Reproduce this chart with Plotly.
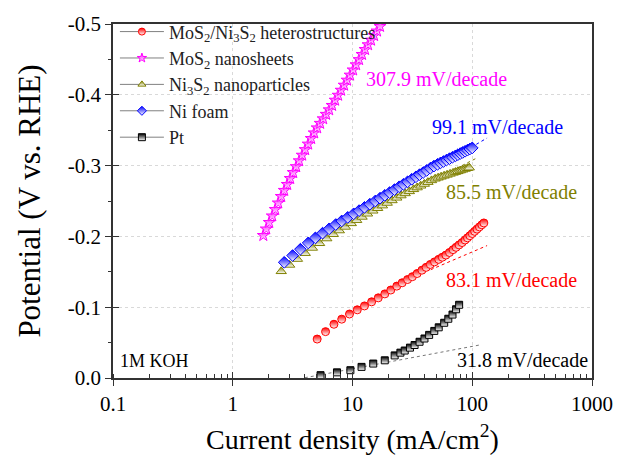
import plotly.graph_objects as go

# ---------------- data ----------------
# MoS2 nanosheets (magenta stars)
mos2_x = [1.80, 1.905, 2.018, 2.138, 2.265, 2.399, 2.541, 2.692, 2.851, 3.020,
          3.199, 3.388, 3.589, 3.802, 4.027, 4.266, 4.519, 4.786, 5.070, 5.370,
          5.689, 6.026, 6.383, 6.761, 7.161, 7.586, 8.035, 8.511, 9.016, 9.550,
          10.12, 10.72, 11.35, 12.02, 12.74, 13.49, 14.29, 15.14, 16.03, 16.98]
mos2_y = [-0.2013, -0.2105, -0.2197, -0.2289, -0.2380, -0.2472, -0.2564, -0.2650, -0.2734, -0.2818,
          -0.2902, -0.2985, -0.3068, -0.3147, -0.3226, -0.3304, -0.3383, -0.3462, -0.3533, -0.3597,
          -0.3661, -0.3724, -0.3788, -0.3850, -0.3924, -0.3994, -0.4065, -0.4136, -0.4207, -0.4278,
          -0.4351, -0.4424, -0.4497, -0.4570, -0.4640, -0.4707, -0.4772, -0.4837, -0.4901, -0.4966]

# Ni foam (blue diamonds)
ni_x = [2.692, 3.162, 3.673, 4.266, 4.898, 5.623, 6.383, 7.244, 8.128, 9.120,
        10.23, 11.35, 12.59, 13.96, 15.49, 16.98, 18.62, 20.42, 22.39, 24.55,
        26.61, 28.84, 31.26, 33.88, 36.31, 38.90, 41.69, 44.67, 47.86, 51.29,
        54.33, 57.54, 60.95, 64.57, 68.39, 72.44, 75.86, 79.43, 83.18, 87.10,
        91.20, 95.50, 100.0]
ni_y = [-0.1634, -0.1730, -0.1819, -0.1908, -0.1979, -0.2046, -0.2107, -0.2168, -0.2218, -0.2269,
        -0.2319, -0.2364, -0.2410, -0.2455, -0.2500, -0.2540, -0.2580, -0.2620, -0.2660, -0.2701,
        -0.2736, -0.2771, -0.2807, -0.2842, -0.2872, -0.2902, -0.2932, -0.2963, -0.2993, -0.3018,
        -0.3038, -0.3058, -0.3078, -0.3098, -0.3118, -0.3138, -0.3154, -0.3170, -0.3186, -0.3202,
        -0.3218, -0.3234, -0.3250]

# Ni3S2 nanoparticles (olive triangles)
ni3s2_x = [2.541, 2.985, 3.467, 4.027, 4.624, 5.309, 6.095, 6.918, 7.762, 8.710,
           9.772, 10.84, 12.02, 13.34, 14.79, 16.22, 17.78, 19.50, 21.38, 23.44,
           25.41, 27.54, 29.85, 32.36, 34.67, 37.15, 39.81, 42.66, 45.71, 48.98,
           51.88, 54.95, 58.21, 61.66, 65.31, 69.18, 72.44, 75.86, 79.43, 83.18,
           87.10, 91.20, 94.41]
ni3s2_y = [-0.1507, -0.1597, -0.1680, -0.1763, -0.1837, -0.1903, -0.1970, -0.2031, -0.2083, -0.2134,
           -0.2184, -0.2229, -0.2275, -0.2320, -0.2362, -0.2398, -0.2435, -0.2472, -0.2508, -0.2545,
           -0.2577, -0.2607, -0.2636, -0.2665, -0.2690, -0.2715, -0.2740, -0.2766, -0.2791, -0.2814,
           -0.2828, -0.2842, -0.2856, -0.2869, -0.2883, -0.2897, -0.2908, -0.2919, -0.2930, -0.2941,
           -0.2952, -0.2963, -0.2971]

# MoS2/Ni3S2 heterostructures (red circles)
het_x = [5.070, 5.957, 6.998, 8.128, 9.441, 10.96, 12.59, 14.45, 16.41, 18.62,
         20.89, 23.44, 26.00, 28.84, 31.62, 34.67, 38.02, 41.21, 44.67, 48.42,
         52.48, 56.23, 60.26, 64.57, 69.18, 73.28, 77.62, 82.22, 87.10, 91.20,
         95.50, 100.0, 104.7, 109.6, 114.8, 120.2, 125.0]
het_y = [-0.0550, -0.0655, -0.0759, -0.0831, -0.0904, -0.0963, -0.1018, -0.1076, -0.1132, -0.1188,
         -0.1243, -0.1298, -0.1345, -0.1391, -0.1431, -0.1476, -0.1523, -0.1563, -0.1604, -0.1640,
         -0.1676, -0.1706, -0.1736, -0.1773, -0.1813, -0.1846, -0.1880, -0.1913, -0.1949, -0.1980,
         -0.2010, -0.2041, -0.2072, -0.2103, -0.2134, -0.2164, -0.2190]

# Pt (black squares)
pt_x = [5.41, 7.42, 9.60, 11.9, 14.9, 18.6, 22.5, 25.12, 27.3, 30.20,
        33.0, 36.31, 39.9, 43.65, 48.2, 52.48, 58.3, 63.10, 68.4, 73.28, 77.7]
pt_y = [-0.0040, -0.0080, -0.0110, -0.0157, -0.0204, -0.0250, -0.0319, -0.0358, -0.0388, -0.0429,
        -0.0466, -0.0512, -0.0558, -0.0609, -0.0665, -0.0716, -0.0780, -0.0837, -0.0896, -0.0971, -0.1034]

# Tafel fit lines (end points)
fit_pt_x, fit_pt_y = [4.0, 115.0], [-0.0004, -0.0466]
fit_het_x, fit_het_y = [45.0, 133.0], [-0.153, -0.187]
fit_ni_x, fit_ni_y = [40.0, 133.0], [-0.287, -0.339]
fit_ni3s2_x, fit_ni3s2_y = [40.0, 110.0], [-0.273, -0.311]

legend_names = ["MoS<sub>2</sub>/Ni<sub>3</sub>S<sub>2</sub> heterostructures",
                "MoS<sub>2</sub> nanosheets",
                "Ni<sub>3</sub>S<sub>2</sub> nanoparticles",
                "Ni foam",
                "Pt"]
slope_labels = ["83.1 mV/decade", "307.9 mV/decade", "85.5 mV/decade", "99.1 mV/decade", "31.8 mV/decade"]

x_tickvals = [0.1, 1, 10, 100, 1000]
x_ticktext = ["0.1", "1", "10", "100", "1000"]
y_tickvals = [0.0, -0.1, -0.2, -0.3, -0.4, -0.5]
y_ticktext = ["0.0", "-0.1", "-0.2", "-0.3", "-0.4", "-0.5"]

# ---------------- figure ----------------
RED, MAG, OLV, BLU, BLK = "#ff0000", "#ff00ff", "#808000", "#0000ff", "#000000"
FONT = "Liberation Serif"

fig = go.Figure()

fits = [(fit_pt_x, fit_pt_y, "#777777"), (fit_het_x, fit_het_y, RED),
        (fit_ni_x, fit_ni_y, BLU), (fit_ni3s2_x, fit_ni3s2_y, OLV)]
for fx, fy, c in fits:
    fig.add_trace(go.Scatter(x=fx, y=fy, mode="lines", showlegend=False, hoverinfo="skip",
                             line=dict(color=c, width=1, dash="dot")))

series = [
    (pt_x, pt_y, BLK, "square", 7),
    (ni3s2_x, ni3s2_y, OLV, "triangle-up", 9),
    (ni_x, ni_y, BLU, "diamond", 9),
    (mos2_x, mos2_y, MAG, "star", 9),
    (het_x, het_y, RED, "circle", 8),
]
for sx, sy, c, sym, sz in series:
    fig.add_trace(go.Scatter(
        x=sx, y=sy, mode="markers", showlegend=False,
        marker=dict(symbol=sym, size=sz, color=c, line=dict(color=c, width=1),
                    gradient=dict(type="vertical", color="white"))))

leg = [(RED, "circle"), (MAG, "star"), (OLV, "triangle-up"), (BLU, "diamond"), (BLK, "square")]
for name, (c, sym) in zip(legend_names, leg):
    fig.add_trace(go.Scatter(
        x=[None], y=[None], mode="lines+markers", name=name,
        line=dict(color="#808080", width=1),
        marker=dict(symbol=sym, size=7, color=c, line=dict(color=c, width=1),
                    gradient=dict(type="vertical", color="white"))))

# dummy trace for overlay axes (crossing ticks)
fig.add_trace(go.Scatter(x=[None], y=[None], xaxis="x2", yaxis="y2", showlegend=False))

ann_pos = [(0.690, 0.277, RED), (0.523, 0.845, MAG), (0.690, 0.526, OLV),
           (0.661, 0.709, BLU), (0.713, 0.050, BLK)]
for txt, (ax, ay, c) in zip(slope_labels, ann_pos):
    fig.add_annotation(x=ax, y=ay, xref="paper", yref="paper", text=txt, showarrow=False,
                       xanchor="left", yanchor="middle", font=dict(family=FONT, size=20, color=c))
fig.add_annotation(x=0.010, y=0.047, xref="paper", yref="paper", text="1M KOH", showarrow=False,
                   xanchor="left", yanchor="middle", font=dict(family=FONT, size=18, color="black"))

axis_line = "#333333"
fig.update_layout(
    width=625, height=462,
    margin=dict(l=113, r=28, t=22, b=79),
    paper_bgcolor="white", plot_bgcolor="white",
    font=dict(family=FONT, color="black"),
    showlegend=True,
    legend=dict(x=0.004, y=1.03, xanchor="left", yanchor="top", bgcolor="rgba(0,0,0,0)",
                font=dict(family=FONT, size=18, color="#222222"), itemwidth=44,
                tracegroupgap=0, borderwidth=0),
    xaxis=dict(type="log", range=[-1, 3], tickvals=x_tickvals, ticktext=x_ticktext,
               ticks="outside", ticklen=6, tickwidth=1, tickcolor=axis_line,
               showline=True, linecolor=axis_line, linewidth=1.5, mirror=True,
               showgrid=True, gridcolor="#d9d9d9", griddash="dot", gridwidth=1,
               zeroline=False, tickfont=dict(family=FONT, size=21, color="black"),
               minor=dict(ticks="inside", ticklen=4, tickcolor=axis_line, dtick="D1", showgrid=False),
               title=dict(text="Current density (mA/cm<sup>2</sup>)", standoff=14,
                          font=dict(family=FONT, size=28, color="black"))),
    yaxis=dict(range=[0, -0.5], tickvals=y_tickvals, ticktext=y_ticktext,
               ticks="outside", ticklen=6, tickwidth=1, tickcolor=axis_line,
               showline=True, linecolor=axis_line, linewidth=1.5, mirror=True,
               showgrid=True, gridcolor="#d9d9d9", griddash="dot", gridwidth=1,
               zeroline=False, tickfont=dict(family=FONT, size=21, color="black"),
               minor=dict(ticks="outside", ticklen=3, tickcolor=axis_line, dtick=0.05, showgrid=False),
               title=dict(text="Potential (V vs. RHE)", standoff=18,
                          font=dict(family=FONT, size=31, color="black"))),
    xaxis2=dict(type="log", range=[-1, 3], overlaying="x", anchor="y2", side="bottom",
                tickvals=x_tickvals, ticks="inside", ticklen=6, tickcolor=axis_line,
                showticklabels=False, showgrid=False, showline=False, zeroline=False),
    yaxis2=dict(range=[0, -0.5], overlaying="y", anchor="x2", side="left",
                tickvals=y_tickvals, ticks="inside", ticklen=6, tickcolor=axis_line,
                showticklabels=False, showgrid=False, showline=False, zeroline=False),
)

fig.write_html("out.html")
